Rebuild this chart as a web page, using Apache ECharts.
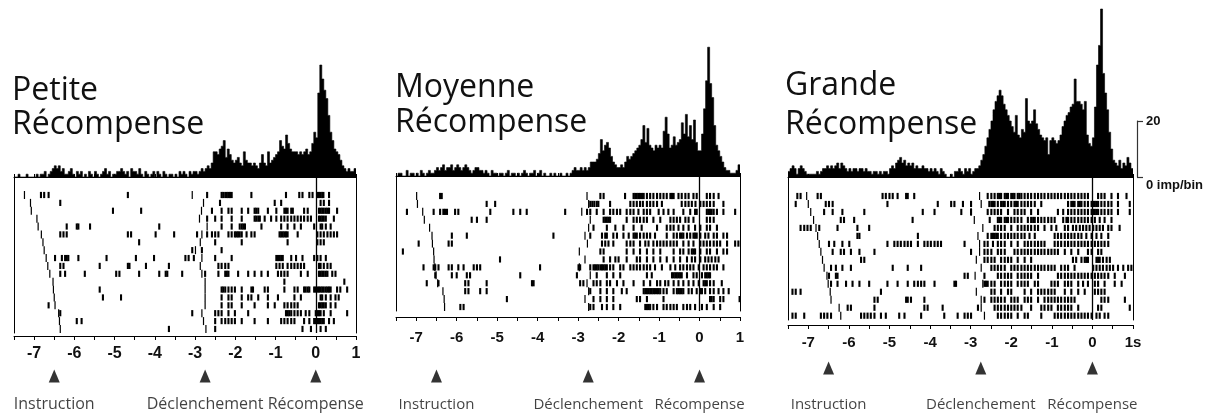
<!DOCTYPE html>
<html>
<head>
<meta charset="utf-8">
<script src="https://cdn.jsdelivr.net/npm/echarts@6/dist/echarts.min.js"></script>
<style>
html, body { margin: 0; padding: 0; background: #fff; }
#chart { width: 1230px; height: 413px; }
</style>
</head>
<body>
<div id="chart"></div>
<script>
// time axis (s, aligned on reward) and histogram bins
const tMin = -7.5, tMax = 1;
const binWidth = 0.05;
const histMax = 62;          // imp/bin at top of histogram box
const scaleBar = 20;         // imp/bin
const eventTimes = [-6.5, -2.75, 0];
const eventNames = ['Instruction', 'Déclenchement', 'Récompense'];

// PSTH, imp/bin, 0.05 s bins from -7.5 s
const histPetite = [
  0,0,1,0,0,0,1,0,0,0, 0,1,0,1,1,2,0,1,2,3, 4,3,4,2,3,1,1,2,3,1, 0,2,1,2,0,1,0,2,1,0,
  2,1,0,1,2,3,1,2,0,1, 1,2,2,3,2,1,2,0,3,2, 2,1,3,1,0,2,1,0,1,2, 0,2,1,0,2,1,0,1,1,0,
  1,0,2,1,2,1,0,2,1,2, 2,1,2,3,2,3,4,3,5,9, 9,8,10,11,13,7,10,8,6,5, 6,7,5,4,9,6,5,5,4,5,
  4,3,5,8,5,4,9,5,6,7, 8,9,13,11,10,15,12,10,9,9, 9,8,9,8,9,10,8,9,12,16,
  14,30,40,35,31,28,22,16,13,10, 9,8,6,4,3,2,3,2,2,3
];
const histMoyenne = [
  0,1,1,0,0,2,0,1,1,0, 1,0,2,1,0,1,2,1,1,2, 3,2,3,4,2,3,3,4,2,3, 4,3,2,3,4,3,2,1,2,3,
  3,2,2,1,2,1,0,2,1,1, 0,1,1,0,1,2,0,1,1,0, 1,0,1,2,1,0,1,1,2,0, 1,2,0,1,0,0,1,0,1,0,
  0,1,0,0,1,0,1,2,3,2, 2,3,2,3,2,3,5,5,5,6, 8,13,9,11,12,10,7,5,4,3, 3,4,3,5,7,6,7,8,9,10,
  11,13,18,12,17,11,10,9,11,10, 11,10,16,21,15,10,11,14,11,12, 13,19,15,22,14,18,13,20,12,9,
  9,15,24,34,46,33,28,18,11,9, 7,5,3,2,2,1,1,1,2,4
];
const histGrande = [
  2,3,4,3,1,3,4,3,2,1, 1,1,1,1,2,1,2,3,3,4, 3,4,3,4,5,3,5,4,3,2, 3,2,3,3,2,3,3,2,3,2,
  2,1,2,2,1,2,1,2,2,1, 3,4,3,5,6,7,5,6,4,5, 4,5,3,4,3,3,4,3,3,2, 3,2,3,2,1,3,2,1,0,0,
  1,0,2,2,3,2,1,3,2,3, 1,2,3,3,4,6,8,11,14,17, 20,24,27,29,31,29,26,24,22,20, 18,16,22,15,14,17,16,28,20,19,
  20,24,19,17,15,14,13,14,8,13, 14,13,12,13,15,18,20,22,23,25, 26,35,27,27,26,24,27,15,12,11,
  14,25,40,47,60,37,30,24,16,10, 6,5,4,6,3,5,4,7,5,3
];

// raster: instruction and trigger times per trial (s)
const instrPetite = [-7.24,-7.09,-7.07,-6.93,-6.90,-6.82,-6.78,-6.75,-6.70,-6.66,-6.61,-6.53,-6.52,-6.50,-6.48,-6.39,-6.37,-6.35];
const trigPetite = [-3.07,-2.79,-2.84,-2.89,-2.70,-2.83,-2.87,-2.99,-2.83,-2.87,-2.83,-2.75,-2.75,-2.75,-2.75,-2.83,-2.79,-2.73];
const instrMoyenne = [-6.99,-6.97,-6.84,-6.80,-6.67,-6.61,-6.60,-6.57,-6.56,-6.54,-6.51,-6.47,-6.34,-6.31,-6.30];
const trigMoyenne = [-2.78,-2.74,-2.91,-2.70,-2.74,-2.83,-2.77,-2.97,-2.83,-2.97,-2.70,-2.78,-2.74,-2.83,-2.74];
const instrGrande = [-7.04,-7.00,-6.94,-6.87,-6.81,-6.77,-6.73,-6.69,-6.65,-6.61,-6.54,-6.51,-6.46,-6.44,-6.24,-6.20];
const trigGrande = [-2.78,-2.74,-2.99,-2.91,-2.70,-2.82,-2.78,-2.78,-2.86,-2.74,-2.89,-2.70,-2.86,-2.74,-2.74,-2.66];

// raster: spike times per trial (s)
const spikesPetite = [
  [-6.83,-6.75,-6.64,-4.67,-2.70,-2.34,-2.30,-2.25,-2.21,-2.17,-2.13,-2.09,-1.60,-0.74,-0.41,-0.33,-0.16,-0.08,0.04,0.08,0.12,0.16,0.19,0.33],
  [-6.35,-2.38,-1.02,-0.86,0.12,0.20,0.33],
  [-5.04,-4.34,-2.58,-2.34,-2.17,-2.09,-1.84,-1.68,-1.52,-1.48,-1.43,-1.19,-0.98,-0.78,-0.74,-0.70,-0.61,-0.57,-0.29,-0.20,0.08,0.12,0.16,0.20,0.25,0.29,0.33,0.53],
  [-2.70,-2.50,-2.34,-2.09,-1.84,-1.52,-1.48,-1.43,-1.39,-1.27,-1.11,-0.98,-0.86,-0.78,-0.70,-0.61,-0.53,-0.45,-0.37,-0.29,-0.20,-0.12,0.08,0.12,0.16,0.20,0.25,0.45],
  [-6.19,-5.94,-5.90,-5.61,-3.89,-2.34,-2.09,-1.89,-1.84,-1.80,-1.76,-1.35,-0.86,-0.70,-0.53,-0.37,-0.04,0.12,0.16,0.25,0.37],
  [-6.35,-6.27,-6.19,-4.67,-4.59,-3.98,-3.52,-2.95,-2.70,-2.58,-2.50,-2.42,-2.17,-2.09,-2.01,-1.97,-1.93,-1.89,-1.84,-1.72,-1.60,-1.52,-0.90,-0.86,-0.82,-0.78,-0.74,-0.70,-0.45,0.04,0.12,0.20,0.29,0.37,0.45,0.53],
  [-4.39,-2.50,-1.84,-0.70,0.04,0.12,0.20],
  [-3.07,-2.83,-2.34],
  [-6.48,-6.31,-6.23,-6.19,-6.15,-5.90,-5.20,-4.47,-4.02,-3.24,-3.16,-3.03,-2.50,-2.09,-0.98,-0.94,-0.90,-0.86,-0.82,-0.61,-0.49,-0.33,-0.04,0.04,0.12,0.25],
  [-6.35,-6.27,-5.37,-4.67,-4.63,-4.22,-3.65,-2.42,-2.34,-2.25,-2.17,-0.98,-0.90,-0.82,-0.70,-0.61,-0.53,-0.45,-0.37,-0.29,0.08,0.12,0.20,0.29,0.37],
  [-6.35,-6.23,-5.74,-4.96,-4.88,-4.39,-3.89,-3.73,-3.69,-3.32,-2.75,-2.42,-2.25,-2.21,-2.17,-1.93,-1.68,-1.52,-1.35,-1.19,-0.94,-0.86,-0.78,-0.70,-0.37,-0.20,0.08,0.12,0.16,0.20,0.25,0.29,0.41,0.49],
  [-0.78,0.71],
  [-5.37,-2.34,-2.30,-2.25,-2.17,-2.09,-2.01,-1.84,-1.60,-1.56,-1.27,-1.19,-0.78,-0.53,-0.45,-0.29,-0.25,-0.20,-0.16,-0.04,0.00,0.04,0.08,0.12,0.16,0.20,0.25,0.29,0.33,0.37,0.53,0.61,0.78],
  [-5.29,-4.84,-2.34,-2.17,-2.09,-1.84,-1.68,-1.60,-1.43,-1.19,-0.94,-0.53,-0.37,0.12,0.16,0.25,0.37,0.49,0.57],
  [-6.64,-2.34,-2.17,-2.09,-1.84,-1.52,-1.19,-1.02,-0.78,-0.70,-0.61,-0.53,-0.45,0.08,0.12,0.16,0.20,0.25,0.37,0.49],
  [-6.35,-3.07,-2.50,-2.42,-2.34,-2.17,-2.01,-1.68,-0.74,-0.70,-0.66,-0.61,-0.53,-0.45,-0.37,-0.25,-0.16,0.00,0.04,0.08,0.12,0.20,0.37,0.78],
  [-5.94,-5.82,-2.50,-2.34,-2.25,-2.17,-2.09,-2.01,-1.84,-1.52,-1.19,-0.86,-0.78,-0.70,-0.61,-0.53,-0.29,-0.16,-0.04,0.00,0.04,0.08,0.12,0.16,0.20,0.33,0.45],
  [-3.65,-2.50,-0.33,-0.12,0.12,0.25]
];
const spikesMoyenne = [
  [-6.41,-6.37,-2.45,-2.37,-1.84,-1.63,-1.59,-1.55,-1.51,-1.47,-1.42,-1.38,-1.30,-1.22,-1.14,-1.05,-0.97,-0.89,-0.81,-0.72,-0.68,-0.64,-0.52,-0.44,-0.35,-0.27,-0.15,-0.07,0.18,0.26,0.35,0.47],
  [-5.26,-5.05,-2.70,-2.65,-2.60,-2.54,-2.50,-2.21,-1.71,-1.63,-1.55,-1.47,-1.40,-1.30,-1.22,-1.14,-1.05,-0.93,-0.44,-0.35,-0.27,-0.19,-0.10,0.02,0.10,0.18,0.26,0.35,0.59],
  [-7.23,-6.57,-6.41,-6.33,-6.29,-6.24,-6.04,-5.96,-5.17,-4.60,-4.43,-4.27,-3.32,-2.78,-2.70,-2.54,-2.37,-2.21,-2.13,-2.04,-1.96,-1.80,-1.71,-1.63,-1.51,-1.38,-1.30,-1.22,-1.01,-0.89,-0.77,-0.64,-0.40,-0.23,-0.11,-0.07,0.18,0.22,0.26,0.30,0.35,0.43,0.59,0.88],
  [-5.63,-5.50,-5.26,-2.37,-2.33,-2.29,-2.25,-2.21,-1.80,-1.63,-1.55,-1.47,-1.38,-1.30,-1.14,-0.97,-0.72,-0.64,-0.56,-0.48,-0.35,-0.27,-0.15,0.18,0.26,0.35],
  [-2.62,-2.29,-2.08,-1.88,-1.63,-1.43,-1.05,-0.81,-0.72,-0.64,-0.52,-0.40,-0.27,-0.11,0.02,0.18,0.26,0.43],
  [-6.12,-5.75,-3.61,-2.70,-2.41,-2.33,-2.29,-2.13,-2.04,-1.88,-1.75,-1.63,-1.59,-1.55,-1.47,-1.38,-1.30,-1.22,-1.10,-0.81,-0.64,-0.56,-0.48,-0.44,-0.40,-0.31,-0.23,-0.15,-0.11,-0.07,0.02,0.14,0.22,0.35,0.43,0.59,0.68],
  [-6.94,-6.20,-6.12,-2.41,-2.33,-2.25,-2.13,-1.80,-1.71,-1.63,-1.47,-1.34,-1.26,-1.14,-1.05,-0.97,-0.89,-0.81,-0.72,-0.64,-0.56,-0.40,-0.27,-0.15,0.02,0.10,0.18,0.26,0.35,0.43,0.51,0.68,0.88,0.96],
  [-7.33,-2.45,-2.37,-1.80,-1.63,-1.47,-1.30,-1.14,-0.97,-0.64,-0.48,-0.40,-0.27,-0.19,-0.15,-0.11,0.02,0.18,0.26,0.43,0.59,0.68],
  [-4.93,-2.37,-2.21,-2.08,-2.00,-1.80,-1.55,-1.47,-1.30,-1.14,-0.97,-0.81,-0.64,-0.48,-0.31,-0.19,-0.11,0.02,0.14,0.22,0.30,0.39,0.47],
  [-6.82,-6.57,-6.53,-6.45,-6.20,-6.12,-5.96,-5.83,-5.58,-5.50,-5.42,-3.94,-2.99,-2.95,-2.70,-2.62,-2.58,-2.54,-2.50,-2.45,-2.41,-2.37,-2.33,-2.29,-2.21,-2.13,-1.96,-1.88,-1.71,-1.63,-1.55,-1.47,-1.38,-1.30,-1.22,-1.10,-0.93,-0.72,-0.60,-0.48,-0.40,-0.31,-0.23,-0.15,-0.02,0.10,0.18,0.26,0.35,0.43,0.59],
  [-6.53,-6.12,-6.00,-5.75,-5.67,-4.43,-3.03,-2.54,-2.29,-2.13,-1.96,-1.30,-1.18,-0.68,-0.64,-0.60,-0.56,-0.52,-0.48,-0.44,-0.31,-0.15,-0.07,0.06,0.14,0.18,0.22,0.26],
  [-6.74,-6.45,-5.79,-5.71,-5.26,-4.14,-4.10,-2.95,-2.87,-2.62,-2.54,-2.45,-2.29,-2.21,-2.04,-1.88,-1.63,-1.38,-1.22,-1.05,-0.97,-0.85,-0.77,-0.64,-0.52,-0.40,-0.27,-0.15,-0.02,0.10,0.14,0.18,0.26,0.35,0.55],
  [-5.79,-5.71,-5.42,-5.26,-2.70,-2.45,-2.29,-2.13,-1.92,-1.80,-1.38,-1.34,-1.30,-1.26,-1.22,-1.18,-1.14,-1.10,-1.05,-1.01,-0.97,-0.89,-0.81,-0.64,-0.56,-0.52,-0.48,-0.44,-0.40,-0.27,-0.19,-0.07,0.02,0.06,0.14,0.26,0.35,0.47,0.59,0.72],
  [-4.76,-2.62,-2.45,-2.29,-2.13,-1.55,-1.47,-1.30,-0.89,0.26,0.30,0.35,0.51,0.59,0.99],
  [-5.91,-5.83,-2.70,-2.62,-2.41,-2.29,-2.13,-1.96,-1.34,-1.30,-1.26,-1.22,-1.14,-1.05,-0.89,-0.81,-0.72,-0.64,-0.56,-0.40,-0.31,-0.23,-0.11,0.06,0.18,0.35,0.51]
];
const spikesGrande = [
  [-7.27,-7.19,-6.77,-6.69,-5.17,-5.09,-5.00,-4.92,-4.80,-4.59,-4.55,-4.39,-2.58,-2.49,-2.41,-2.33,-2.29,-2.25,-2.16,-2.12,-2.08,-2.00,-1.96,-1.92,-1.84,-1.80,-1.75,-1.67,-1.59,-1.51,-1.42,-1.34,-1.26,-1.18,-1.09,-1.01,-0.93,-0.85,-0.77,-0.68,-0.60,-0.52,-0.44,-0.35,-0.27,-0.19,-0.11,0.14,0.22,0.30,0.47,0.63,0.84],
  [-7.31,-6.57,-6.49,-6.40,-5.05,-3.81,-3.48,-3.40,-3.19,-2.99,-2.54,-2.49,-2.45,-2.41,-2.33,-2.25,-2.20,-2.16,-2.08,-2.00,-1.92,-1.88,-1.84,-1.75,-1.67,-1.59,-1.51,-1.42,-1.26,-0.60,-0.52,-0.48,-0.44,-0.35,-0.31,-0.27,-0.19,-0.11,-0.02,0.02,0.06,0.10,0.14,0.22,0.30,0.39,0.47,0.63,0.92],
  [-6.61,-6.40,-6.16,-5.62,-4.18,-3.89,-3.23,-2.99,-2.58,-2.49,-2.41,-2.33,-2.25,-2.08,-1.92,-1.84,-1.75,-1.67,-1.51,-1.34,-0.85,-0.72,-0.60,-0.52,-0.44,-0.35,-0.27,-0.19,-0.11,-0.02,0.02,0.06,0.10,0.14,0.22,0.30,0.39,0.47,0.63,0.92],
  [-6.20,-6.12,-5.87,-4.43,-2.53,-2.33,-2.29,-2.25,-2.16,-2.12,-2.08,-2.00,-1.92,-1.84,-1.75,-1.59,-1.51,-1.46,-1.42,-1.34,-1.26,-1.18,-1.09,-1.01,-0.93,-0.72,-0.64,-0.60,-0.52,-0.44,-0.35,-0.27,-0.19,-0.11,-0.02,0.06,0.18,0.30,0.47],
  [-7.19,-7.10,-7.02,-6.94,-6.73,-6.28,-5.79,-5.50,-2.41,-2.33,-2.25,-2.16,-2.00,-1.84,-1.75,-1.67,-1.59,-1.51,-1.42,-1.34,-1.18,-1.01,-0.89,-0.68,-0.60,-0.48,-0.40,-0.31,-0.23,-0.15,-0.07,0.02,0.10,0.18,0.26,0.39,0.47,0.67],
  [-5.79,-5.74,-4.30,-2.58,-2.49,-2.45,-2.41,-2.37,-2.33,-2.25,-2.16,-2.08,-2.00,-1.92,-1.84,-1.75,-1.67,-1.55,-1.42,-0.93,-0.85,-0.77,-0.68,-0.60,-0.52,-0.44,-0.35,-0.27,-0.15,-0.02,0.10,0.22,0.39],
  [-6.49,-6.36,-6.16,-5.99,-5.05,-4.88,-4.80,-4.72,-4.63,-4.55,-4.47,-4.30,-4.14,-4.06,-3.98,-3.89,-3.81,-3.73,-3.15,-2.66,-2.58,-2.45,-2.33,-2.25,-2.16,-2.00,-1.84,-1.67,-1.59,-1.51,-1.42,-1.34,-1.26,-1.18,-0.93,-0.85,-0.77,-0.68,-0.60,-0.52,-0.44,-0.35,-0.27,-0.19,-0.11,-0.02,0.06,0.14,0.22,0.30,0.39],
  [-6.40,-6.20,-6.12,-5.95,-5.74,-5.37,-2.99,-2.66,-2.58,-2.49,-2.33,-2.25,-2.16,-1.92,-1.84,-1.75,-1.67,-1.59,-1.51,-1.42,-1.34,-1.26,-1.18,-1.09,-1.01,-0.93,-0.85,-0.68,-0.52,-0.35,-0.11,-0.02,0.14,0.22],
  [-5.70,-5.62,-2.66,-2.58,-2.49,-2.41,-2.25,-2.16,-2.08,-2.00,-1.84,-1.67,-1.51,-0.48,-0.40,-0.27,-0.19,-0.15,-0.11,0.10,0.14,0.18,0.26,0.35,0.43],
  [-6.44,-6.32,-6.16,-5.95,-4.92,-4.55,-4.22,-2.49,-2.41,-2.33,-2.25,-2.16,-2.00,-1.92,-1.84,-1.75,-1.67,-1.59,-1.51,-1.42,-1.34,-1.26,-1.18,-1.09,-1.01,-0.93,-0.77,-0.68,-0.60,-0.44,0.02,0.10,0.18,0.26,0.35,0.43,0.51,0.63,0.76,0.88,0.96],
  [-6.49,-6.32,-6.28,-3.15,-3.07,-2.66,-2.33,-2.25,-2.16,-2.08,-2.00,-1.84,-1.75,-1.67,-1.59,-1.51,-1.34,-0.85,-0.77,-0.68,-0.60,-0.52,-0.44,-0.35,-0.27,-0.19,-0.11,-0.02,0.06,0.14,0.22,0.30,0.39,0.55,0.80],
  [-6.44,-6.28,-6.07,-5.91,-5.74,-5.50,-5.05,-4.80,-4.55,-4.39,-4.30,-4.22,-4.14,-3.89,-3.40,-3.36,-2.66,-2.62,-2.58,-2.49,-2.41,-2.25,-2.16,-2.08,-2.00,-1.84,-1.75,-1.67,-1.59,-1.42,-1.34,-1.01,-0.93,-0.85,-0.68,-0.60,-0.52,-0.35,-0.23,-0.11,0.06,0.14,0.30,0.55,0.72],
  [-7.39,-7.31,-7.19,-5.21,-2.49,-2.41,-2.25,-2.08,-2.00,-1.67,-1.51,-1.34,-1.26,-1.18,-1.09,-1.01,-0.93,-0.68,-0.52,-0.35,-0.19,0.06,0.14,0.22,0.30],
  [-5.37,-5.29,-4.59,-4.55,-4.47,-4.14,-2.66,-2.49,-2.41,-2.33,-2.25,-2.16,-2.00,-1.92,-1.84,-1.67,-1.59,-1.51,-1.34,-1.18,-1.09,-1.01,-0.93,-0.85,-0.77,-0.68,-0.60,-0.52,-0.44,0.22,0.30,0.39,0.80],
  [-6.03,-5.95,-5.37,-4.14,-4.06,-3.69,-2.82,-2.41,-2.33,-2.25,-2.16,-2.08,-2.00,-1.92,-1.84,-1.75,-1.51,-1.26,-1.18,-1.09,-1.01,-0.85,-0.77,-0.68,-0.60,-0.52,-0.35,0.14,0.22,0.92],
  [-7.39,-7.31,-7.10,-6.69,-6.61,-6.53,-6.44,-5.70,-5.62,-5.54,-5.46,-5.37,-5.21,-5.09,-4.76,-4.63,-4.22,-3.65,-3.32,-3.15,-3.07,-2.99,-2.33,-2.25,-2.16,-2.08,-2.00,-1.84,-1.67,-1.59,-1.26,-0.93,-0.85,-0.77,-0.68,-0.60,-0.52,-0.44,-0.35,-0.27,-0.19,-0.11,-0.02,0.10,0.18,0.30,0.39]
];

const panels = [
  { title: ['Petite', 'Récompense'], hist: histPetite, spikes: spikesPetite, instr: instrPetite, trig: trigPetite, unit: '' },
  { title: ['Moyenne', 'Récompense'], hist: histMoyenne, spikes: spikesMoyenne, instr: instrMoyenne, trig: trigMoyenne, unit: '' },
  { title: ['Grande', 'Récompense'], hist: histGrande, spikes: spikesGrande, instr: instrGrande, trig: trigGrande, unit: 's' }
];

// page layout in pixels
const pxPerImp = 2.8;
const layout = [
  { left: 14, width: 342, base: 177, rasterBottom: 333, rowTop: 195, rowStep: 7.88, axisOffset: 3, tickFont: 16, labelMargin: 10,
    triY: 376, textGap: 14, eventFont: 16, titleX: 12, titleTop: 74, titleLH: 34 },
  { left: 396, width: 344, base: 176, rasterBottom: 311, rowTop: 196, rowStep: 7.93, axisOffset: 6, tickFont: 15, labelMargin: 13,
    triY: 376, textGap: 15, eventFont: 15, titleX: 395, titleTop: 70, titleLH: 35 },
  { left: 788, width: 345, base: 177, rasterBottom: 320, rowTop: 196, rowStep: 7.98, axisOffset: 5, tickFont: 15, labelMargin: 10,
    triY: 368, textGap: 23, eventFont: 15, titleX: 785, titleTop: 66, titleLH: 39 }
];

function rasterItem(params, api) {
  const p = api.coord([api.value(0), api.value(1)]);
  const mark = api.value(2);
  const w = mark ? 1.2 : 2.1;
  const h = mark ? 8 : 6.2;
  return {
    type: 'rect',
    shape: { x: p[0] - w / 2, y: p[1] - h / 2, width: w, height: h },
    style: { fill: '#000' }
  };
}

const black = { color: '#000', width: 1 };
const option = {
  animation: false,
  backgroundColor: '#fff',
  title: [],
  grid: [],
  xAxis: [],
  yAxis: [],
  series: []
};

panels.forEach(function (p, k) {
  const L = layout[k];
  const histH = histMax * pxPerImp;

  // histogram, drawn as a filled step outline
  let g = option.grid.length;
  option.grid.push({ left: L.left, width: L.width, top: L.base - histH, height: histH, outerBoundsMode: 'none' });
  option.xAxis.push({ gridIndex: g, type: 'value', min: tMin, max: tMax, show: false });
  option.yAxis.push({ gridIndex: g, type: 'value', min: 0, max: histMax, show: false });
  const histData = p.hist.map(function (v, i) { return [tMin + i * binWidth, v]; });
  histData.push([tMax, p.hist[p.hist.length - 1]]);
  option.series.push({
    type: 'line', step: 'end', xAxisIndex: option.xAxis.length - 1, yAxisIndex: option.yAxis.length - 1,
    silent: true, showSymbol: false, symbol: 'none',
    lineStyle: { color: '#000', width: 0.6 }, areaStyle: { color: '#000', opacity: 1 },
    data: histData
  });

  // raster
  const yMin = 1 - (L.rowTop - L.base) / L.rowStep;
  const yMax = yMin + (L.rasterBottom - L.base) / L.rowStep;
  g = option.grid.length;
  option.grid.push({ left: L.left, width: L.width, top: L.base, height: L.rasterBottom - L.base, outerBoundsMode: 'none' });
  const xTop = option.xAxis.length;
  option.xAxis.push({
    gridIndex: g, type: 'value', position: 'top', min: tMin, max: tMax, interval: 0.5,
    axisLine: { show: true, onZero: false, lineStyle: black }, axisTick: { show: true, length: 3, lineStyle: black },
    axisLabel: { show: false }, splitLine: { show: false }
  });
  option.xAxis.push({
    gridIndex: g, type: 'value', position: 'bottom', offset: L.axisOffset, min: tMin, max: tMax, interval: 0.5,
    axisLine: { show: true, onZero: false, lineStyle: black }, axisTick: { show: true, length: 4, lineStyle: black },
    axisLabel: {
      show: true, margin: L.labelMargin, hideOverlap: false,
      fontFamily: 'Liberation Sans', fontWeight: 'bold', fontSize: L.tickFont, color: '#111',
      formatter: function (v) {
        if (!Number.isInteger(v)) return '';
        return v === tMax ? v + p.unit : String(v);
      }
    },
    splitLine: { show: false }
  });
  const yLeft = option.yAxis.length;
  ['left', 'right'].forEach(function (pos) {
    option.yAxis.push({
      gridIndex: g, type: 'value', position: pos, min: yMin, max: yMax, inverse: true,
      axisLine: { show: true, onZero: false, lineStyle: black }, axisTick: { show: false },
      axisLabel: { show: false }, splitLine: { show: false }
    });
  });
  const rasterData = [];
  p.spikes.forEach(function (trial, r) {
    trial.forEach(function (t) { rasterData.push([t, r + 1, 0]); });
    rasterData.push([p.instr[r], r + 1, 1]);
    rasterData.push([p.trig[r], r + 1, 1]);
  });
  option.series.push({
    type: 'custom', xAxisIndex: xTop, yAxisIndex: yLeft, renderItem: rasterItem, silent: true,
    data: rasterData,
    markLine: {
      silent: true, symbol: 'none', label: { show: false },
      lineStyle: { color: '#000', width: 1.3, type: 'solid' },
      data: [{ xAxis: eventTimes[2] }]
    }
  });

  // event markers below axis
  g = option.grid.length;
  option.grid.push({ left: L.left, width: L.width, top: L.triY - 10, height: 20, outerBoundsMode: 'none' });
  option.xAxis.push({ gridIndex: g, type: 'value', min: tMin, max: tMax, show: false });
  option.yAxis.push({ gridIndex: g, type: 'value', min: 0, max: 1, show: false });
  option.series.push({
    type: 'scatter', xAxisIndex: option.xAxis.length - 1, yAxisIndex: option.yAxis.length - 1, silent: true,
    symbol: 'triangle', symbolSize: [11, 13], itemStyle: { color: '#000' },
    label: {
      show: true, position: 'bottom', distance: L.textGap,
      fontFamily: 'Open Sans', fontSize: L.eventFont, color: '#111',
      formatter: function (d) { return eventNames[d.dataIndex]; }
    },
    data: eventTimes.map(function (t) { return [t, 0.5]; })
  });

  option.title.push({
    text: p.title.join('\n'), left: L.titleX, top: L.titleTop, padding: 0,
    textStyle: { fontFamily: 'Open Sans', fontSize: 32, fontWeight: 'normal', color: '#111', lineHeight: L.titleLH }
  });
});

// scale bar next to the last histogram
const barH = scaleBar * pxPerImp;
const gs = option.grid.length;
option.grid.push({ left: 1137, width: 20, top: layout[2].base - barH, height: barH, outerBoundsMode: 'none' });
option.xAxis.push({ gridIndex: gs, type: 'value', show: false });
option.yAxis.push({
  gridIndex: gs, type: 'value', position: 'left', min: 0, max: scaleBar, interval: scaleBar,
  axisLine: { show: true, onZero: false, lineStyle: { color: '#333', width: 1.2 } },
  axisTick: { show: true, inside: true, length: 6, lineStyle: { color: '#333', width: 1.2 } },
  splitLine: { show: false },
  axisLabel: {
    show: true, inside: true, margin: 9, color: '#111',
    formatter: function (v) { return v === 0 ? '{low|0 imp/bin}' : '{top|' + v + '}'; },
    rich: {
      low: { fontFamily: 'Liberation Sans', fontWeight: 'bold', fontSize: 13, color: '#111', padding: [16, 0, 0, 0] },
      top: { fontFamily: 'Liberation Sans', fontWeight: 'bold', fontSize: 13, color: '#111' }
    }
  }
});

const chart = echarts.init(document.getElementById('chart'), null, { renderer: 'canvas' });
chart.setOption(option);
</script>
</body>
</html>
